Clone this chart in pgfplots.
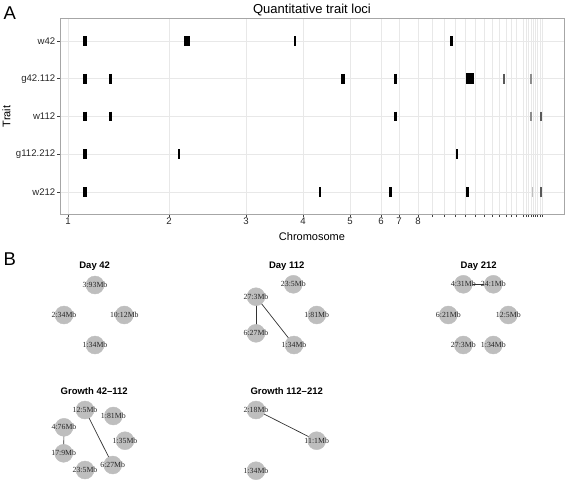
\documentclass[border=0pt]{standalone}
\usepackage{pgfplots}
\pgfplotsset{compat=1.18}
\usepackage{fontspec}
\setmainfont{Liberation Sans}
\newfontfamily\nodefont{Liberation Serif}
\definecolor{nodegray}{RGB}{190,190,190}
\definecolor{gridgray}{RGB}{232,232,232}
\begin{document}
\begin{tikzpicture}[x=1pt,y=1pt]
\useasboundingbox (0,0) rectangle (567,483);
\node[anchor=base west, inner sep=0pt] at (3.3pt,463pt) {\fontsize{18.5}{20}\selectfont A};
\node[anchor=base west, inner sep=0pt] at (3.3pt,218pt) {\fontsize{18.5}{20}\selectfont B};
\begin{axis}[
  at={(60pt,269pt)}, anchor=south west,
  scale only axis, width=504pt, height=195.3pt,
  xmin=60, xmax=564, ymin=0.417, ymax=5.59,
  /pgf/number format/assume math mode=true,
  axis line style={black!35, line width=0.6pt},
  grid=major, major grid style={gridgray, line width=0.5pt},
  tick align=outside, major tick length=3pt,
  tick style={black!75, line width=0.5pt},
  xtick pos=bottom, ytick pos=left,
  xtick={68,169,246,303,350,381,399,418,432.7,444.7,455.3,465,475.7,484.7,492.3,499.3,506,511,516,523.5,526,528.5,531,533.5,535.5,537.5,540,542},
  xticklabels={1,2,3,4,5,6,7,8,,,,,,,,,,,,,,,,,,,,},
  ytick={1,2,3,4,5},
  yticklabels={w212,g112.212,w112,g42.112,w42},
  ticklabel style={font=\fontsize{9.6}{10}\selectfont, text=black!85},
  xticklabel style={inner sep=1pt},
  yticklabel style={inner sep=1.5pt},
  every axis title shift=0pt,
  title={Quantitative trait loci},
  title style={at={(axis description cs:0.5,1)}, anchor=base, yshift=5.5pt, font=\fontsize{13}{14}\selectfont, inner sep=0pt},
  xlabel={Chromosome},
  xlabel style={at={(axis description cs:0.5,0)}, anchor=base, yshift=-26.5pt, font=\fontsize{11}{12}\selectfont, inner sep=0pt},
  ylabel={Trait},
  ylabel style={at={(axis description cs:-0.0986,0.5)}, anchor=base, font=\fontsize{11}{12}\selectfont, inner sep=0pt, rotate=0},
]
% bars: x = position in chromosome units (pixel scale), y = trait row
\addplot[only marks, mark=|, mark size=4.9pt, mark options={line width=3.3pt, black}] coordinates {
 (85,5) (85,4) (85,3) (85,2) (85,1) (110.7,4) (110.5,3) (343,4) (390.7,1)};
\addplot[only marks, mark=|, mark size=4.9pt, mark options={line width=5.6pt, black}] coordinates {
 (187,5)};
\addplot[only marks, mark=|, mark size=4.9pt, mark options={line width=1.7pt, black}] coordinates {
 (295,5) (179,2) (456.7,2) (320,1)};
\addplot[only marks, mark=|, mark size=4.9pt, mark options={line width=2.5pt, black}] coordinates {
 (451.7,5) (395.3,4) (395.3,3) (467.7,1)};
\addplot[only marks, mark=|, mark size=5.4pt, mark options={line width=7.7pt, black}] coordinates {
 (470.3,4)};
\addplot[only marks, mark=|, mark size=4.9pt, mark options={line width=2pt, black!65}] coordinates {
 (504,4) (541,3) (540.7,1)};
\addplot[only marks, mark=|, mark size=4.9pt, mark options={line width=1.3pt, black!45}] coordinates {
 (531,4) (531,3)};
\addplot[only marks, mark=|, mark size=4.9pt, mark options={line width=1pt, black!25}] coordinates {
 (532.3,1)};
\end{axis}
\begin{axis}[
  at={(0pt,0pt)}, anchor=south west,
  scale only axis, width=567pt, height=238pt,
  xmin=0, xmax=567, ymin=245, ymax=483, y dir=reverse,
  axis lines=none, clip=false,
]
% edges
\addplot[black!80, line width=0.7pt] coordinates {(256,296.7) (256,333.3)};
\addplot[black!80, line width=0.7pt] coordinates {(256,296.7) (294,345)};
\addplot[black!80, line width=0.7pt] coordinates {(463.3,284.3) (493.3,284.3)};
\addplot[black!80, line width=0.7pt] coordinates {(64,427.3) (63.7,453.3)};
\addplot[black!80, line width=0.7pt] coordinates {(85,410) (112.7,465)};
\addplot[black!80, line width=0.7pt] coordinates {(256,410) (316.7,440.7)};
% nodes
\addplot[only marks, mark=*, mark size=9pt, mark options={draw=nodegray, fill=nodegray},
  nodes near coords, point meta=explicit symbolic,
  every node near coord/.append style={anchor=center, inner sep=0pt, font=\nodefont\fontsize{7.8}{8}\selectfont, text=black!85}]
 table[meta=lab] {
x y lab
95 285 3:93Mb
64 315 2:34Mb
124.3 315 10:12Mb
95 345 1:34Mb
256 296.7 27:3Mb
293.3 284.3 23:5Mb
316.7 315 1:81Mb
256 333.3 6:27Mb
294 345 1:34Mb
463.3 284.3 4:31Mb
493.3 284.3 24:1Mb
448.3 315 6:21Mb
508.3 315 12:5Mb
463.3 345 27:3Mb
493.3 345 1:34Mb
85 410 12:5Mb
113.3 416 1:81Mb
64 427.3 4:76Mb
125 440.7 1:35Mb
63.7 453.3 17:9Mb
112.7 465 6:27Mb
85 470 23:5Mb
256 410 2:18Mb
316.7 440.7 11:1Mb
256 470.7 1:34Mb
};
\node[anchor=base, inner sep=0pt, font=\bfseries\fontsize{9.5}{10}\selectfont] at (axis cs:94.7,268) {Day 42};
\node[anchor=base, inner sep=0pt, font=\bfseries\fontsize{9.5}{10}\selectfont] at (axis cs:286.7,268) {Day 112};
\node[anchor=base, inner sep=0pt, font=\bfseries\fontsize{9.5}{10}\selectfont] at (axis cs:478.7,268) {Day 212};
\node[anchor=base, inner sep=0pt, font=\bfseries\fontsize{9.5}{10}\selectfont] at (axis cs:94.2,394) {Growth 42\textendash112};
\node[anchor=base, inner sep=0pt, font=\bfseries\fontsize{9.5}{10}\selectfont] at (axis cs:286.7,394) {Growth 112\textendash212};
\end{axis}
\end{tikzpicture}
\end{document}
